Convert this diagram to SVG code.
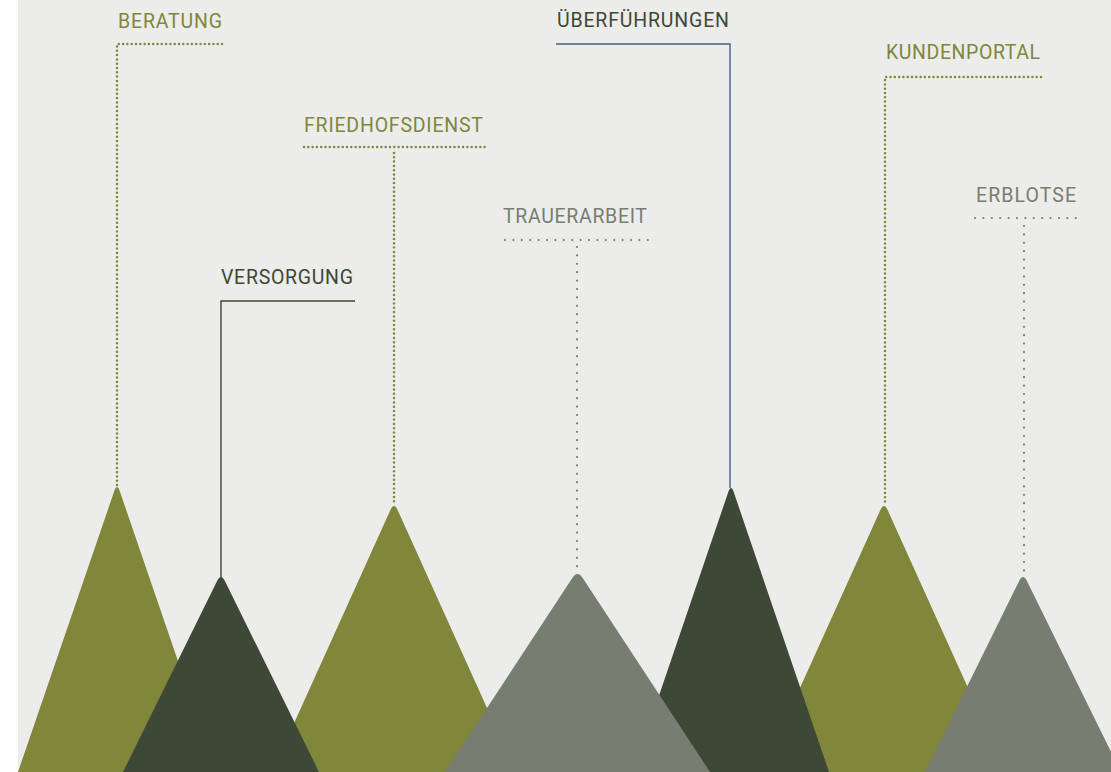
<svg xmlns="http://www.w3.org/2000/svg" width="1111" height="772" viewBox="0 0 1111 772">
<style>
.lbl{font-family:Roboto,"Liberation Sans",sans-serif;font-size:19.5px}
.olive{fill:#80863a}
.dark{fill:#3e4836}
.gray{fill:#787d72}
.dotO{fill:none;stroke:#80863a;stroke-width:2.5;stroke-linecap:round;stroke-dasharray:0 4.3}
.dotG{fill:none;stroke:#787d72;stroke-width:2.2;stroke-linecap:round;stroke-dasharray:0 8.4}
.solidD{fill:none;stroke:#3e4836;stroke-width:1.4}
.solidB{fill:none;stroke:#3f6185;stroke-width:1.4}
</style>
<rect x="0" y="0" width="1111" height="772" fill="#ffffff"/>
<rect x="18" y="0" width="1093" height="772" fill="#ececea"/>
<g id="connectors">
<path class="dotO" d="M222,44 H117 V486"/>
<path class="solidB" d="M556,44 H730 V488"/>
<path class="dotO" d="M304,147 H486"/>
<path class="dotO" d="M394,153 V505"/>
<path class="dotG" d="M505,240 H652"/>
<path class="dotG" d="M577,247 V573"/>
<path class="solidD" d="M355,301 H221 V577"/>
<path class="dotO" d="M1041,77 H885 V505"/>
<path class="dotG" d="M975,218 H1077"/>
<path class="dotG" d="M1024,226 V576"/>
</g>
<g id="beratung">
<path class="olive" d="M18,772 L114.3,491 Q117,483 119.7,491 L216,772 Z"/>
<text class="lbl olive" x="118" y="28" textLength="104">BERATUNG</text>
</g>
<g id="friedhofsdienst">
<path class="olive" d="M272,772 L390.4,510 Q394,502 397.6,510 L516,772 Z"/>
<text class="lbl olive" x="304" y="132" textLength="179">FRIEDHOFSDIENST</text>
</g>
<g id="kundenportal">
<path class="olive" d="M762,772 L880.4,510 Q884,502 887.6,510 L1006,772 Z"/>
<text class="lbl olive" x="886" y="59" textLength="154">KUNDENPORTAL</text>
</g>
<g id="versorgung">
<path class="dark" d="M123,772 L217.1,581 Q221,573 224.9,581 L319,772 Z"/>
<text class="lbl dark" x="221" y="284" textLength="132">VERSORGUNG</text>
</g>
<g id="ueberfuehrungen">
<path class="dark" d="M633,772 L728.3,492 Q731,484 733.7,492 L829,772 Z"/>
<text class="lbl dark" x="557" y="27" textLength="172">ÜBERFÜHRUNGEN</text>
</g>
<g id="trauerarbeit">
<path class="gray" d="M445,772 L572.3,578 Q577.5,570 582.7,578 L710,772 Z"/>
<text class="lbl gray" x="503" y="223" textLength="144">TRAUERARBEIT</text>
</g>
<g id="erblotse">
<path class="gray" d="M925,772 L1019.1,581 Q1023,573 1026.9,581 L1121,772 Z"/>
<text class="lbl gray" x="976" y="202" textLength="100">ERBLOTSE</text>
</g>
</svg>
